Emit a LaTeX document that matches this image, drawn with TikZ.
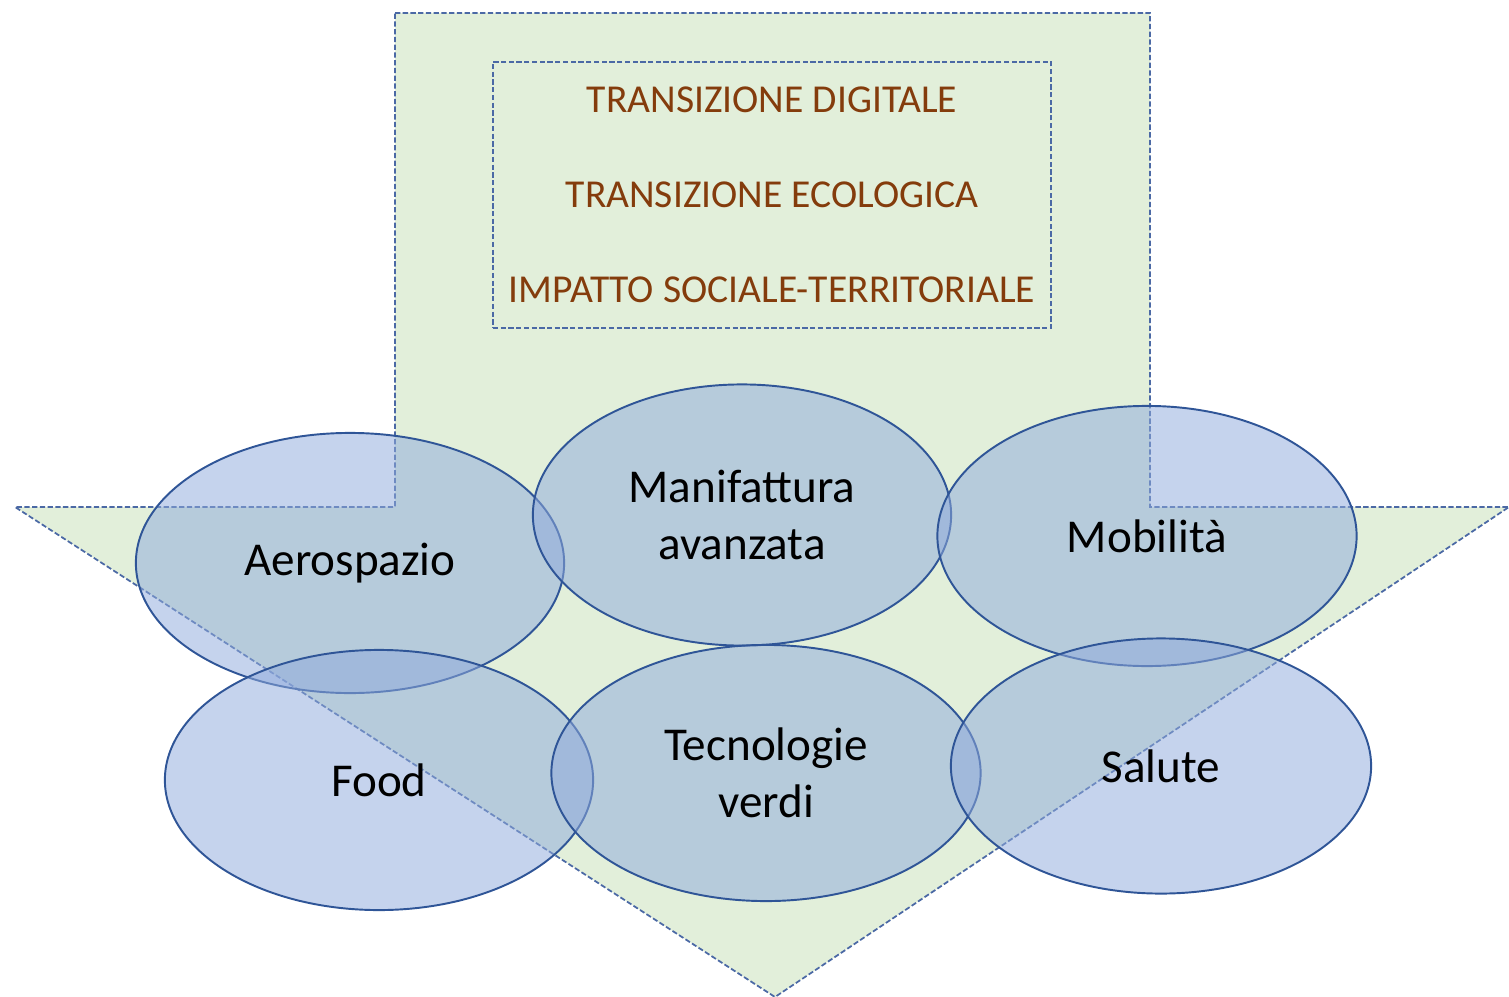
\documentclass[tikz,border=0pt]{standalone}
\usepackage{fontspec}
\setmainfont{Carlito}
\usetikzlibrary{shapes.geometric}

\definecolor{arrowfill}{RGB}{226,239,218}
\definecolor{dashblue}{RGB}{75,105,165}
\definecolor{ellline}{RGB}{47,85,151}
\definecolor{ellfill}{RGB}{143,170,220}
\definecolor{topic}{RGB}{132,60,12}

\begin{document}
\begin{tikzpicture}[x=0.01cm,y=-0.01cm,
    frame/.style={draw=dashblue,line width=0.5pt,dash pattern=on 1.5pt off 0.7pt},
    topictext/.style={text=topic,font=\fontsize{11.25}{14}\selectfont},
    sector/.style={ellipse,draw=ellline,line width=0.55pt,fill=ellfill,fill opacity=0.52,
      text opacity=1,align=center,inner sep=0pt,font=\fontsize{13.4}{16.2}\selectfont}]
  \useasboundingbox (0,0) rectangle (1509,997);
  % big arrow
  \draw[frame,fill=arrowfill] (395,13) -- (1150,13) -- (1150,507) -- (1509,507)
    -- (775,997) -- (15,507) -- (395,507) -- cycle;
  % box with the three themes
  \node[frame,minimum width=5.58cm,minimum height=2.66cm] (themes) at (772,195) {};
  \node[topictext] (digit) at (772,100) {TRANSIZIONE DIGITALE};
  \node[topictext] (eco) at (772,195) {TRANSIZIONE ECOLOGICA};
  \node[topictext] (social) at (772,290) {IMPATTO SOCIALE-TERRITORIALE};
  % sectors
  \node[sector,minimum width=4.28cm,minimum height=2.6cm] (aero) at (350,563) {Aerospazio};
  \node[sector,minimum width=4.18cm,minimum height=2.61cm] (manif) at (742,515) {Manifattura\\avanzata};
  \node[sector,minimum width=4.19cm,minimum height=2.6cm] (mobil) at (1147,536) {Mobilità};
  \node[sector,minimum width=4.28cm,minimum height=2.6cm] (food) at (379,780) {Food};
  \node[sector,minimum width=4.29cm,minimum height=2.56cm] (tecno) at (766,773) {Tecnologie\\verdi};
  \node[sector,minimum width=4.2cm,minimum height=2.55cm] (salute) at (1161,766) {Salute};
\end{tikzpicture}
\end{document}
